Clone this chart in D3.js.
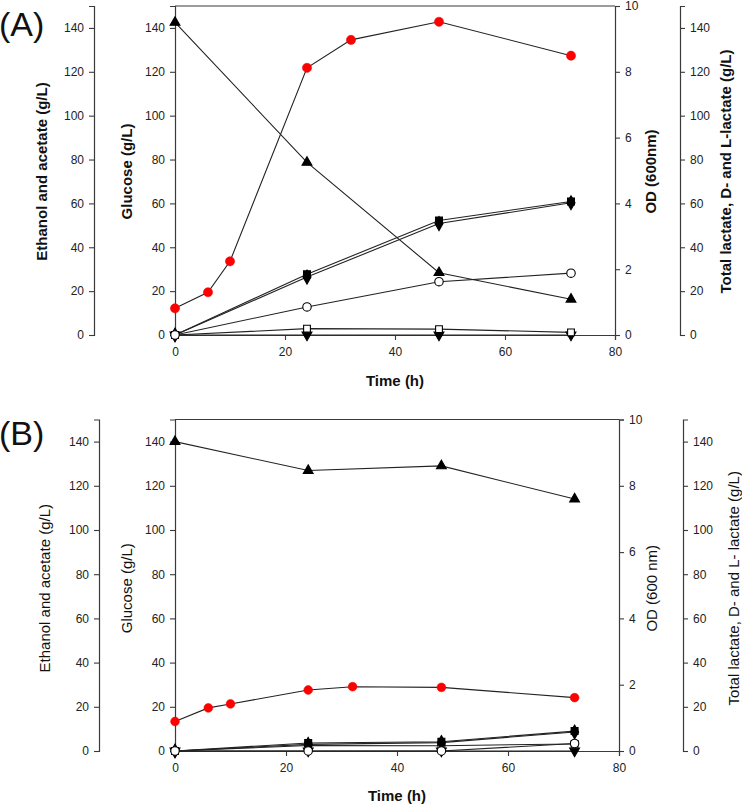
<!DOCTYPE html>
<html><head><meta charset="utf-8">
<script src="https://cdn.jsdelivr.net/npm/d3@7"></script>
<style>
body{margin:0;background:#fff;}
svg{display:block;font-family:"Liberation Sans",Arial,sans-serif;}
</style></head>
<body>
<svg id="chart" width="742" height="805"></svg>
<script>
// ---- data ----
const timeSample = [0, 24, 48, 72];
const timeOD = [0, 6, 10, 24, 32, 48, 72];
const xTicks = [0, 20, 40, 60, 80];
const gTicks = [0, 20, 40, 60, 80, 100, 120, 140];
const odTicks = [0, 2, 4, 6, 8, 10];

// Panel A
const glucoseA = [142.5, 78.7, 28.4, 16.3];
const odA = [0.81, 1.30, 2.24, 8.12, 8.97, 9.52, 8.49];
const totalLactateA = [0, 27.7, 52.2, 60.9];
const dLactateA = [0, 26.4, 50.8, 60.3];
const ethanolA = [0, 12.8, 24.3, 28.2];
const acetateA = [0, 2.9, 2.7, 1.2];
const lLactateA = [0, 0, 0, 0];

// Panel B
const glucoseB = [140, 126.9, 129.0, 114.0];
const odB = [0.89, 1.30, 1.42, 1.84, 1.94, 1.92, 1.61];
const totalLactateB = [0, 3.6, 4.2, 9.0];
const dLactateB = [0, 3.0, 3.8, 8.6];
const ethanolB = [0, 0, 0, 3.4];
const acetateB = [0, 2.5, 2.4, 3.2];
const lLactateB = [0, 0, 0, 0];

const svg = d3.select("#chart");
const axisColor = "#3a3a3a";
const lineColor = "#222";

function styleAxis(g){
  g.selectAll("path.domain").attr("stroke", axisColor).attr("stroke-width", 1.2);
  g.selectAll(".tick line").attr("stroke", axisColor).attr("stroke-width", 1.1);
  g.selectAll(".tick text").attr("fill", "#222").style("font-size", "12px")
    .style("font-family", "'Liberation Sans',Arial,sans-serif");
}

function drawPanel(p){
  const x = d3.scaleLinear().domain([0, 80]).range([p.x0, p.x1]);
  const yG = d3.scaleLinear().domain([0, 150]).range([p.yb, p.yt]);
  const yOD = d3.scaleLinear().domain([0, 10]).range([p.yb, p.yt]);
  const g = svg.append("g");

  // panel letter
  g.append("text").attr("x", -1).attr("y", p.letterY).text(p.letter)
    .style("font-size", "34px").attr("fill", "#111");

  // top frame line
  g.append("line").attr("x1", p.x0).attr("x2", p.x1).attr("y1", p.yt).attr("y2", p.yt)
    .attr("stroke", axisColor).attr("stroke-width", 1.2);

  // axes
  const eth = g.append("g").attr("transform", `translate(${p.ethX},0)`)
    .call(d3.axisLeft(yG).tickValues(gTicks).tickSizeOuter(0).tickSize(5).tickPadding(5));
  styleAxis(eth);
  const glu = g.append("g").attr("transform", `translate(${p.x0},0)`)
    .call(d3.axisLeft(yG).tickValues(gTicks).tickSizeOuter(0).tickSize(5).tickPadding(5));
  styleAxis(glu);
  const od = g.append("g").attr("transform", `translate(${p.x1},0)`)
    .call(d3.axisRight(yOD).tickValues(odTicks).tickSizeOuter(0).tickSize(5).tickPadding(5));
  styleAxis(od);
  const lac = g.append("g").attr("transform", `translate(${p.lacX},0)`)
    .call(d3.axisRight(yG).tickValues(gTicks).tickSizeOuter(0).tickSize(5).tickPadding(5));
  styleAxis(lac);
  const xa = g.append("g").attr("transform", `translate(0,${p.yb})`)
    .call(d3.axisBottom(x).tickValues(xTicks).tickSizeOuter(0).tickSize(5).tickPadding(7));
  styleAxis(xa);

  // axis titles
  const tw = p.boldTitles ? "bold" : "normal";
  const yMid = (p.yt + p.yb) / 2 + p.titleShift;
  function vtitle(tx, ty, txt){
    g.append("text").attr("transform", `translate(${tx},${ty}) rotate(-90)`)
      .attr("text-anchor", "middle").attr("fill", "#111")
      .style("font-size", "15px").style("font-weight", tw).text(txt);
  }
  vtitle(p.ethTitleX, yMid, "Ethanol and acetate (g/L)");
  vtitle(p.gluTitleX, yMid, "Glucose (g/L)");
  vtitle(p.odTitleX, yMid, p.odTitle);
  vtitle(p.lacTitleX, yMid, p.lacTitle);
  g.append("text").attr("x", p.timeX).attr("y", p.timeY)
    .attr("text-anchor", "middle").attr("fill", "#111")
    .style("font-size", "15px").style("font-weight", "bold").text("Time (h)");

  const lineG = d3.line().x((d, i) => x(timeSample[i])).y(d => yG(d));
  const lineOD = d3.line().x((d, i) => x(timeOD[i])).y(d => yOD(d));

  const series = [
    {v: p.lLactate, sym: d3.symbolTriangle, rot: 180, fill: "#000", size: 42},
    {v: p.acetate, sym: d3.symbolSquare, fill: "#fff", size: 46},
    {v: p.dLactate, sym: d3.symbolDiamond, fill: "#000", size: 56},
    {v: p.totalLactate, sym: d3.symbolSquare, fill: "#000", size: 48},
    {v: p.ethanol, sym: d3.symbolCircle, fill: "#fff", size: 56},
    {v: p.glucose, sym: d3.symbolTriangle, fill: "#000", size: 42},
  ];
  series.forEach(s => {
    g.append("path").datum(s.v).attr("d", lineG).attr("fill", "none")
      .attr("stroke", lineColor).attr("stroke-width", 1.1);
  });
  g.append("path").datum(p.od).attr("d", lineOD).attr("fill", "none")
    .attr("stroke", lineColor).attr("stroke-width", 1.1);

  series.forEach(s => {
    g.selectAll(null).data(s.v).join("path")
      .attr("d", d3.symbol().type(s.sym).size(s.size))
      .attr("transform", (d, i) => `translate(${x(timeSample[i])},${yG(d)}) rotate(${s.rot || 0})`)
      .attr("fill", s.fill).attr("stroke", "#000").attr("stroke-width", 1.1);
  });
  g.selectAll(null).data(p.od).join("circle")
    .attr("cx", (d, i) => x(timeOD[i])).attr("cy", d => yOD(d)).attr("r", p.odR)
    .attr("fill", "#f00").attr("stroke", "#e00").attr("stroke-width", 0.5);
}

drawPanel({
  letter: "(A)", letterY: 36, yt: 6, yb: 335, x0: 175, x1: 615, ethX: 94, lacX: 680,
  ethTitleX: 47, gluTitleX: 132, odTitleX: 656, lacTitleX: 731, timeX: 395, timeY: 386,
  titleShift: 1, odR: 4.6,
  boldTitles: true, odTitle: "OD (600nm)", lacTitle: "Total lactate, D- and L-lactate (g/L)",
  glucose: glucoseA, od: odA, totalLactate: totalLactateA, dLactate: dLactateA,
  ethanol: ethanolA, acetate: acetateA, lLactate: lLactateA
});
drawPanel({
  letter: "(B)", letterY: 445, yt: 419.5, yb: 751, x0: 175, x1: 619, ethX: 99, lacX: 683,
  ethTitleX: 50, gluTitleX: 132, odTitleX: 657, lacTitleX: 739, timeX: 397, timeY: 801,
  titleShift: 3, odR: 4.4,
  boldTitles: false, odTitle: "OD (600 nm)", lacTitle: "Total lactate, D- and L- lactate (g/L)",
  glucose: glucoseB, od: odB, totalLactate: totalLactateB, dLactate: dLactateB,
  ethanol: ethanolB, acetate: acetateB, lLactate: lLactateB
});
</script>
</body></html>
